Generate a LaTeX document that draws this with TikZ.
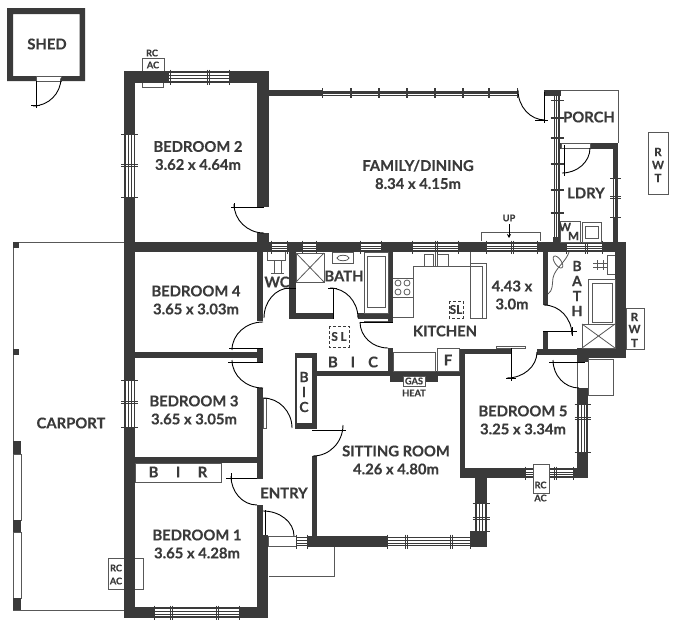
\documentclass[tikz,border=0pt]{standalone}
\usepackage{fontspec}
\usetikzlibrary{arrows.meta}
\setmainfont{Lato}[BoldFont={Lato Bold},BoldFeatures={FakeBold=0.25}]
\definecolor{wallc}{HTML}{3A3A3A}
\tikzset{
  wallf/.style={fill=wallc,draw=none},
  thinl/.style={draw=wallc!85!white,line width=0.8pt},
  winl/.style={draw=wallc,line width=0.6pt},
  doorl/.style={draw=black,line width=0.9pt},
  lab/.style={font=\fontsize{14.8}{18}\selectfont\bfseries,text=wallc,align=center,inner sep=0pt},
  smalllab/.style={font=\fontsize{9.2}{10}\selectfont\bfseries,text=wallc,align=center,inner sep=0pt},
  vlet/.style={font=\fontsize{14}{14}\selectfont\bfseries,text=wallc,inner sep=0pt},
  rwtlet/.style={font=\fontsize{11.5}{12}\selectfont\bfseries,text=wallc,inner sep=0pt},
  sllab/.style={font=\fontsize{12}{12}\selectfont\bfseries,text=wallc,inner sep=0pt},
  dashbox/.style={draw=wallc,line width=0.8pt,dash pattern=on 3pt off 2pt}
}
\newcommand{\wl}[4]{\fill[wallf] (#1,#2) rectangle (#3,#4);}
\newcommand{\bx}[4]{\draw[thinl,fill=white] (#1,#2) rectangle (#3,#4);}
\newcommand{\tln}[4]{\draw[thinl] (#1,#2) -- (#3,#4);}
\newcommand{\dl}[4]{\draw[doorl] (#1,#2) -- (#3,#4);}
\newcommand{\arcHV}[4]{\draw[doorl] (#1,#2) .. controls ({#1+0.552*(#3-#1)},#2) and (#3,{#4-0.552*(#4-#2)}) .. (#3,#4);}
\newcommand{\arcVH}[4]{\draw[doorl] (#1,#2) .. controls (#1,{#2+0.552*(#4-#2)}) and ({#3-0.552*(#3-#1)},#4) .. (#3,#4);}
% horizontal window: x1 x2 ytop ybot ticks
\newcommand{\hwin}[5]{\fill[white] (#1,#3) rectangle (#2,#4);
  \foreach \f in {0.06,0.35,0.65,0.94}{\draw[winl] (#1,{#3+\f*(#4-#3)}) -- (#2,{#3+\f*(#4-#3)});}
  \foreach \t in {#5}{\draw[winl] (\t,#3-2.5) -- (\t,#4+2.5);}}
% vertical window: y1 y2 xleft xright ticks
\newcommand{\vwin}[5]{\fill[white] (#3,#1) rectangle (#4,#2);
  \foreach \f in {0.06,0.35,0.65,0.94}{\draw[winl] ({#3+\f*(#4-#3)},#1) -- ({#3+\f*(#4-#3)},#2);}
  \foreach \t in {#5}{\draw[winl] (#3-3.5,\t) -- (#4+3.5,\t);}}
\begin{document}
\begin{tikzpicture}[x=1pt,y=-1pt]
\useasboundingbox (0,0) rectangle (681,632);
\fill[white] (0,0) rectangle (681,632);

% ---------- shed
\fill[wallf,even odd rule] (7,8) rectangle (85,81) (13,14) rectangle (79.5,76);
\bx{36}{76}{61}{81}
\dl{36}{81}{36}{108}
\dl{31}{105.5}{40}{105.5}
\arcVH{61}{78}{33}{106}

% ---------- carport
\tln{13}{242}{124}{242}
\tln{13}{242}{13}{610}
\tln{13}{610}{124}{610}
\wl{13}{242}{19}{248}
\wl{13}{349}{19}{355}
\bx{13}{454}{21}{520}
\bx{13}{532}{21}{598}
\wl{13}{441}{21}{454}
\wl{13}{520}{21}{532}
\wl{13}{598}{21}{610}

% ---------- thin outside boxes
\draw[thinl] (560,90) -- (618,90) -- (618,143);
\draw[thinl] (269,576) -- (334,576) -- (334,547);
\bx{648}{132}{668}{194}
\bx{626}{308}{644}{349}
\bx{588}{359}{613}{395}
\bx{577}{355}{588}{390}

% ---------- RC AC boxes behind walls
\bx{142}{58}{164}{71}
\bx{142}{80}{163}{87}
\bx{108}{558}{126}{589}
\bx{133}{558}{143}{589}

% ---------- main walls
\wl{124}{71}{135}{618}      % west
\wl{124}{71}{269}{83}       % north bed2
\wl{257}{71}{269}{207}      % east bed2
\wl{257}{233}{269}{252}
\wl{269}{89.5}{322}{96}     % family top
\wl{544}{90}{561}{96}
\wl{124}{242}{625}{252}     % spine
\wl{124}{607}{268}{618}     % south bed1
\wl{257}{252}{263}{321}     % hall west
\wl{257}{348}{263}{363}
\wl{135}{352}{263}{358}
\wl{257}{388}{263}{479}
\wl{135}{457}{263}{463}
\wl{257}{505}{263}{535}
\wl{257}{535}{268}{618}
\wl{289}{252}{296}{318}     % WC/bath
\wl{289}{313}{333}{319}
\wl{358}{313}{393}{319}
\wl{388}{252}{393}{323}
\wl{388}{348}{393}{376}
\wl{390}{371}{438}{382}
\wl{437}{371}{465}{376}
\wl{317}{370.5}{393}{376}
\wl{295}{352.5}{317}{358}   % BIC
\wl{295}{352.5}{297}{429}
\wl{312}{352.5}{317}{429}
\wl{295}{423}{317}{429}
\wl{312}{456}{317}{547}     % sitting west
\wl{307}{536}{387}{547}     % sitting south
\wl{470}{531}{487}{547}
\wl{475}{468}{487}{531}
\wl{460}{349}{465}{472}     % bed5 west
\wl{460}{468}{588}{478}
\wl{577}{388}{588}{478}
\wl{460}{349}{511}{354}
\wl{537}{349}{577}{355}
\wl{577}{348}{626}{358}
\wl{577}{348}{588}{362}
\wl{615}{242}{626}{358}     % east bath
\wl{543}{252}{548}{305}
\wl{543}{331}{548}{355}
\wl{613}{143}{618}{242}     % ldry east
\wl{560}{143}{618}{149}
\wl{553}{237}{561}{243}

% ---------- openings
\bx{561}{143}{590}{148}
\bx{268}{536}{296}{546}
\bx{263}{398}{266}{428}
\bx{393}{352}{435}{371}
\bx{437}{348}{459}{371}
\bx{135}{463}{221}{482}
\bx{403}{376}{425}{386}

% ---------- windows
\hwin{169}{230}{72}{82}{170,207,209,229}
\vwin{134}{197}{124.5}{134.5}{134,164,166,197}
\hwin{322}{517}{90.5}{95.5}{322,350,351,378,379,406,407,434,435,462,463,488,489,517}
\vwin{96}{237}{554}{560}{100,117,118,137,138,163,164,189,190,212,213}
\vwin{178}{217}{613.5}{617.5}{178,196,198,217}
\hwin{271}{287}{243}{251}{271,287}
\hwin{302}{316}{243}{251}{302,316}
\hwin{360}{381}{243}{251}{360,381}
\hwin{412}{458}{243}{251}{412,435,437,458}
\hwin{486}{537}{243}{251}{486,511,513,537}
\hwin{566}{602}{243}{251}{566,585,587,602}
\vwin{380}{427}{124.5}{134.5}{380,401,403,427}
\hwin{154}{239}{608}{617}{154,170,172,216,218,239}
\hwin{296}{307}{537}{546}{296,307}
\hwin{387}{470}{537}{546}{387,405,407,450,452,470}
\vwin{503}{531}{476}{486}{503,517,519,531}
\vwin{404}{452}{578}{587}{404,417,419,452}
\hwin{525}{573}{469}{477}{525,554,556,573}
\bx{533}{464}{549}{493}

% ---------- bath fixtures (west)
\bx{296}{253}{324}{282}
\draw[thinl] (296,253) -- (324,282) (324,253) -- (296,282);
\bx{332}{252}{353}{263}
\draw[thinl] (343,258) ellipse (6 and 2.7);
\bx{364}{252}{388}{313}
\bx{367}{256}{385}{307}
\draw[thinl] (267,252) -- (267,260) -- (285,260) -- (285,252);
\draw[thinl] (274,260) -- (274,273) (281,260) -- (281,273) (271,273.5) -- (284,273.5);
\draw[thinl] (364,321) -- (388,321);

% ---------- kitchen fixtures
\draw[thinl] (393,317) -- (413,317) -- (413,266) -- (470,266);
\draw[thinl] (470,252) -- (470,318) -- (486,318) -- (486,263) -- (470,263);
\draw[thinl] (470,266) -- (482,266) -- (482,318);
\bx{424}{254}{433}{266}
\bx{437}{254}{448}{266}
\draw[thinl] (435,252) -- (435,266);
\draw[thinl] (393,278) -- (413,278) (393,297) -- (413,297);
\foreach \cx/\cy in {398/283,407/283,398/292,407/292}{\draw[thinl] (\cx,\cy) circle (3);}
\draw[dashbox] (449,301) rectangle (463,318);
\draw[dashbox] (329,326) rectangle (349,347);

% ---------- UP
\draw[thinl] (481,241) -- (481,232) -- (540,232) -- (540,241);
\draw[doorl,-{Stealth[length=4pt,width=4pt]}] (509,224) -- (509,238);

% ---------- laundry
\bx{560}{221}{580}{242}
\bx{582}{222}{601}{242}
\bx{585}{226}{598}{238}

% ---------- east bath fixtures
\bx{588}{279}{615}{324}
\bx{592}{283}{612}{322}
\bx{582}{324}{615}{348}
\draw[thinl] (582,324) -- (615,348) (615,324) -- (582,348);
\draw[thinl] (615,255) -- (607,255) -- (607,274) -- (615,274);
\draw[thinl] (593,263) -- (607,263) (593,267) -- (607,267) (597,260) -- (597,270) (603,260) -- (603,270);
\draw[thinl] (569,252) .. controls (566,262) and (555,268) .. (553,278) .. controls (552,286) and (553,290) .. (548,294);
\draw[thinl,rotate around={-55:(558,262)}] (558,262) ellipse (7 and 3.2);
\bx{496}{346}{525}{348}

% ---------- doors
\dl{231}{207}{264}{207}\dl{234}{203}{234}{210}\arcVH{234}{204}{264}{233}
\arcHV{290}{288}{264}{318}\dl{286}{288}{296}{288}
\dl{333}{288}{333}{319}\dl{328}{288}{337}{288}\arcHV{330}{288}{358}{318}
\dl{360}{322}{393}{322}\arcVH{360}{322}{388}{348}
\dl{229}{348}{263}{348}\arcHV{263}{322}{232}{350}
\dl{228}{362}{263}{362}\arcVH{232}{360}{263}{388}
\arcHV{263}{398}{292}{428}
\dl{312}{430}{346}{430}\arcVH{343}{425}{313}{456}
\dl{226}{478}{257}{478}\dl{231}{473}{231}{482}\arcVH{231}{476}{257}{505}
\dl{265}{510}{265}{535}\arcHV{263}{511}{294}{536}
\dl{544}{92}{544}{123}\dl{535}{120}{548}{120}\arcVH{518}{90}{545}{120}
\dl{564}{145}{564}{176}\arcVH{590}{148}{562}{173}
\dl{543}{331}{577}{331}\dl{572}{327}{572}{336}\arcHV{544}{305}{572}{335}
\dl{511}{348}{511}{381}\dl{506}{378}{516}{378}\arcVH{537}{352}{507}{378}
\dl{549}{362}{585}{362}\arcVH{553}{360}{579}{388}

% ---------- labels
\node[lab] (shed) at (47,44) {SHED};
\node[lab] (bed2) at (198,155.5) {BEDROOM 2\\3.62 x 4.64m};
\node[lab] (bed4) at (196,300) {BEDROOM 4\\3.65 x 3.03m};
\node[lab] (bed3) at (194,410) {BEDROOM 3\\3.65 x 3.05m};
\node[lab] (bed1) at (197,544) {BEDROOM 1\\3.65 x 4.28m};
\node[lab] (bed5) at (523,420) {BEDROOM 5\\3.25 x 3.34m};
\node[lab] (family) at (418,174.5) {FAMILY/DINING\\8.34 x 4.15m};
\node[lab] (sitting) at (396,460) {SITTING ROOM\\4.26 x 4.80m};
\node[lab] (kitdim) at (512,295) {4.43 x\\3.0m};
\node[lab] (kitchen) at (445,331) {KITCHEN};
\node[lab] (carport) at (71,423) {CARPORT};
\node[lab] (entry) at (284,493) {ENTRY};
\node[lab] (porch) at (589,117) {PORCH};
\node[lab] (ldry) at (586,193) {LDRY};
\node[lab] (wc) at (277,282) {WC};
\node[lab] (bathw) at (344,276) {BATH};
\node[lab] (bir) at (178,472) {B\hspace{17.5pt}I\hspace{17.5pt}R};
\node[lab] (bich) at (353,362) {B\hspace{13pt}I\hspace{13pt}C};
\node[lab] (f) at (448,360) {F};
\node[vlet] (biv1) at (304,377) {B};
\node[vlet] (biv2) at (304,392) {I};
\node[vlet] (biv3) at (304,407) {C};
\node[vlet] (bb) at (577,266) {B};
\node[vlet] (ba) at (577,281) {A};
\node[vlet] (bt) at (577,296) {T};
\node[vlet] (bh) at (577,311) {H};
\node[rwtlet] (r1) at (658,152) {R};
\node[rwtlet] (w1) at (658,165) {W};
\node[rwtlet] (t1) at (658,178) {T};
\node[rwtlet] (r2) at (634.5,317) {R};
\node[rwtlet] (w2) at (634.5,329) {W};
\node[rwtlet] (t2) at (634.5,343) {T};
\node[smalllab] (rc1) at (152,53) {RC};
\node[smalllab] (ac1) at (153,65) {AC};
\node[smalllab] (rc2) at (116,568) {RC};
\node[smalllab] (ac2) at (116,581) {AC};
\node[smalllab] (rc3) at (540.5,485) {RC};
\node[smalllab] (ac3) at (540.5,498) {AC};
\node[smalllab] (up) at (509,218) {UP};
\node[smalllab] (gas) at (414,381) {GAS};
\node[smalllab] (heat) at (414,393) {HEAT};
\node[rwtlet] (wmw) at (565,227) {W};
\node[rwtlet] (wmm) at (573.5,236) {M};
\node[sllab] (sl1) at (456,309.5) {SL};
\node[sllab] (sl2) at (339,336.5) {S\hspace{2.5pt}L};
\end{tikzpicture}
\end{document}
